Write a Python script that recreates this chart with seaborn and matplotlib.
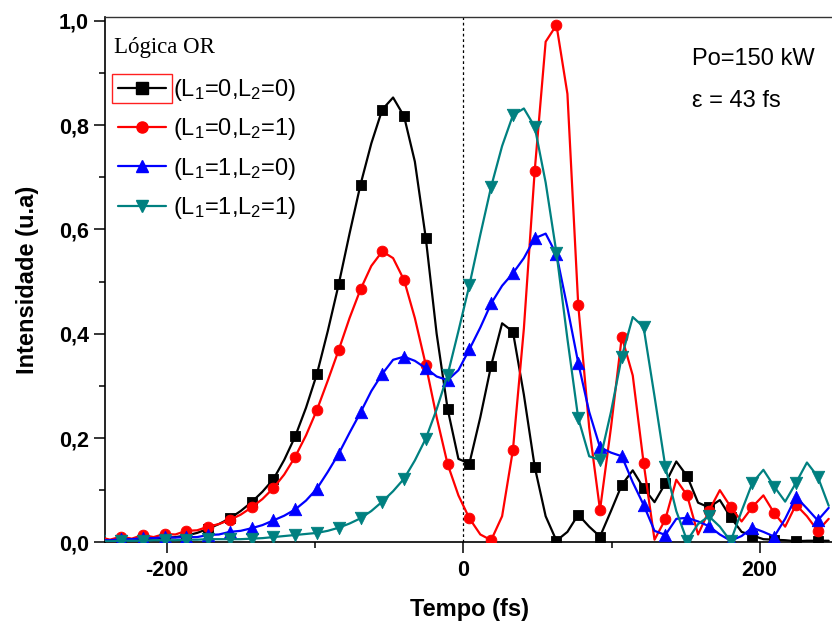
import numpy as np
import pandas as pd
import matplotlib
matplotlib.use("Agg")
import matplotlib.pyplot as plt
import seaborn as sns
from matplotlib.lines import Line2D
from matplotlib.patches import Rectangle
from matplotlib.ticker import FuncFormatter, MultipleLocator, FixedLocator

# Time axis (fs); symbols are drawn on every second sample
time_fs = [
    -245.9, -238.6, -231.2, -223.9, -216.5, -209.2, -201.8, -194.5, -187.1, -179.8,
    -172.4, -165.1, -157.7, -150.4, -143.0, -135.7, -128.3, -121.0, -113.6, -106.3,
    -98.9, -91.6, -84.2, -76.9, -69.5, -62.2, -54.8, -47.5, -40.1, -32.8,
    -25.4, -18.1, -10.7, -3.4, 4.0, 11.4, 18.7, 26.1, 33.4, 40.8,
    48.1, 55.5, 62.8, 70.2, 77.5, 84.9, 92.2, 99.6, 106.9, 114.3,
    121.6, 129.0, 136.3, 143.7, 151.0, 158.4, 165.7, 173.1, 180.4, 187.8,
    195.1, 202.5, 209.8, 217.2, 224.5, 231.9, 239.2, 246.6,
]

# (L1=0, L2=0)
intensity_00 = [
    0.004, 0.004, 0.005, 0.005, 0.006, 0.007, 0.008, 0.010, 0.013, 0.018,
    0.026, 0.035, 0.046, 0.060, 0.077, 0.097, 0.121, 0.158, 0.203, 0.258,
    0.323, 0.405, 0.495, 0.592, 0.686, 0.765, 0.830, 0.853, 0.817, 0.730,
    0.583, 0.400, 0.256, 0.160, 0.151, 0.240, 0.339, 0.420, 0.404, 0.283,
    0.145, 0.050, 0.003, 0.020, 0.053, 0.030, 0.011, 0.060, 0.110, 0.138,
    0.104, 0.077, 0.113, 0.155, 0.127, 0.076, 0.067, 0.081, 0.048, 0.020,
    0.013, 0.006, 0.005, 0.004, 0.002, 0.003, 0.003, 0.003,
]

# (L1=0, L2=1)
intensity_01 = [
    0.010, 0.005, 0.011, 0.007, 0.014, 0.010, 0.016, 0.015, 0.022, 0.023,
    0.030, 0.035, 0.043, 0.053, 0.067, 0.083, 0.104, 0.130, 0.164, 0.205,
    0.254, 0.310, 0.369, 0.430, 0.485, 0.530, 0.558, 0.545, 0.503, 0.430,
    0.340, 0.240, 0.150, 0.090, 0.046, 0.015, 0.004, 0.050, 0.177, 0.410,
    0.712, 0.960, 0.992, 0.860, 0.455, 0.220, 0.062, 0.220, 0.394, 0.320,
    0.153, 0.005, 0.044, 0.120, 0.090, 0.015, 0.060, 0.100, 0.068, 0.040,
    0.068, 0.090, 0.056, 0.030, 0.072, 0.050, 0.022, 0.045,
]

# (L1=1, L2=0)
intensity_10 = [
    0.004, 0.004, 0.006, 0.006, 0.008, 0.008, 0.010, 0.009, 0.010, 0.010,
    0.014, 0.015, 0.020, 0.022, 0.027, 0.033, 0.042, 0.051, 0.063, 0.080,
    0.103, 0.135, 0.170, 0.210, 0.249, 0.290, 0.323, 0.350, 0.356, 0.348,
    0.334, 0.318, 0.311, 0.330, 0.370, 0.412, 0.458, 0.492, 0.516, 0.545,
    0.583, 0.592, 0.552, 0.450, 0.344, 0.250, 0.182, 0.172, 0.165, 0.115,
    0.072, 0.022, 0.014, 0.045, 0.047, 0.040, 0.031, 0.015, 0.003, 0.012,
    0.028, 0.020, 0.011, 0.045, 0.087, 0.065, 0.042, 0.066,
]

# (L1=1, L2=1)
intensity_11 = [
    0.002, 0.002, 0.003, 0.003, 0.003, 0.004, 0.004, 0.004, 0.005, 0.005,
    0.006, 0.006, 0.006, 0.006, 0.007, 0.008, 0.010, 0.012, 0.014, 0.016,
    0.018, 0.022, 0.028, 0.036, 0.046, 0.060, 0.078, 0.098, 0.122, 0.157,
    0.199, 0.255, 0.321, 0.405, 0.493, 0.590, 0.682, 0.760, 0.819, 0.832,
    0.797, 0.690, 0.555, 0.390, 0.238, 0.165, 0.158, 0.250, 0.356, 0.432,
    0.413, 0.280, 0.145, 0.060, 0.003, 0.035, 0.050, 0.030, 0.002, 0.060,
    0.114, 0.139, 0.107, 0.078, 0.114, 0.153, 0.126, 0.070,
]

series_values = [intensity_00, intensity_01, intensity_10, intensity_11]
series_labels = ["(L$_1$=0,L$_2$=0)", "(L$_1$=0,L$_2$=1)",
                 "(L$_1$=1,L$_2$=0)", "(L$_1$=1,L$_2$=1)"]
series_colors = ["#000000", "#ff0000", "#0000ff", "#008080"]
series_markers = ["s", "o", "^", "v"]
marker_sizes = [52, 60, 80, 80]

x_ticks = [-200, 0, 200]
y_ticks = [0.0, 0.2, 0.4, 0.6, 0.8, 1.0]

sns.set_theme(style="ticks", rc={
    "axes.edgecolor": "black", "text.color": "black",
    "axes.labelcolor": "black", "xtick.color": "black", "ytick.color": "black",
})
plt.rcParams["font.family"] = ["Liberation Sans", "DejaVu Sans"]
plt.rcParams["mathtext.fontset"] = "custom"
plt.rcParams["mathtext.rm"] = "Liberation Sans"
plt.rcParams["mathtext.it"] = "Liberation Sans:italic"
plt.rcParams["mathtext.default"] = "regular"
plt.rcParams["axes.unicode_minus"] = False

W, H = 832, 625
fig = plt.figure(figsize=(W / 100, H / 100), dpi=100)
ax = fig.add_axes([105 / W, 82.7 / H, 728 / W, 525.6 / H])

for i, (vals, col, mk, ms) in enumerate(zip(series_values, series_colors,
                                            series_markers, marker_sizes)):
    df = pd.DataFrame({"t": time_fs, "v": vals})
    sns.lineplot(data=df, x="t", y="v", color=col, linewidth=1.6, ax=ax,
                 sort=False, estimator=None, legend=False, zorder=2 + 2 * i)
    sns.scatterplot(data=df.iloc[::2], x="t", y="v", color=col, marker=mk,
                    s=ms, edgecolor=col, linewidth=0.6, ax=ax, legend=False,
                    zorder=3 + 2 * i)

ax.axvline(0, color="black", linestyle=(0, (2.2, 2.2)), linewidth=0.9, zorder=1)

ax.set_xlim(-242, 249.5)
ax.set_ylim(0, 1.008)

ax.xaxis.set_major_locator(FixedLocator(x_ticks))
ax.xaxis.set_minor_locator(MultipleLocator(100))
ax.yaxis.set_major_locator(FixedLocator(y_ticks))
ax.yaxis.set_minor_locator(MultipleLocator(0.1))
ax.xaxis.set_major_formatter(FuncFormatter(lambda v, p: f"{v:.0f}"))
ax.yaxis.set_major_formatter(FuncFormatter(lambda v, p: f"{v:.1f}".replace(".", ",")))

ax.tick_params(axis="both", which="major", direction="out", length=7.7,
               width=1.1, labelsize=15.5, bottom=True, left=True, top=False, right=False)
ax.tick_params(axis="both", which="minor", direction="out", length=4,
               width=1.1, bottom=True, left=True, top=False, right=False)
ax.tick_params(axis="x", which="major", pad=5)
ax.tick_params(axis="y", which="major", pad=4)
for lbl in ax.get_xticklabels() + ax.get_yticklabels():
    lbl.set_fontweight("bold")

for side in ["left", "bottom"]:
    ax.spines[side].set_linewidth(1.2)
ax.spines["top"].set_linewidth(1.0)
ax.spines["top"].set_color("#333333")
ax.spines["right"].set_visible(False)

ax.set_xlabel("Tempo (fs)", fontsize=17, fontweight="bold", labelpad=12)
ax.set_ylabel("Intensidade (u.a)", fontsize=17, fontweight="bold", labelpad=14)

# legend title drawn as its own text line
fig.text(114 / W, 1 - 53 / H, "Lógica OR", fontsize=16.5,
         family=["Liberation Serif"], ha="left", va="baseline")

handles = [Line2D([], [], color=c, marker=m, markersize=8, linewidth=1.6)
           for c, m in zip(series_colors, series_markers)]
leg = ax.legend(handles, series_labels, loc="upper left",
                bbox_to_anchor=(0.0, 0.93), frameon=False, fontsize=17,
                handlelength=2.07, handletextpad=0.28, labelspacing=0.56,
                borderaxespad=0.0, borderpad=0.3, numpoints=1)

# place the first legend key: left end at x=112 px, centred on y=88 px
renderer = fig.canvas.get_renderer()
fig.canvas.draw()
bb = leg.legend_handles[0].get_window_extent(renderer)
dx = 112 - bb.x0
dy = (H - 88) - 0.5 * (bb.y0 + bb.y1)
ax_bb = ax.get_window_extent(renderer)
anchor = leg.get_bbox_to_anchor()
leg.set_bbox_to_anchor(((anchor.x0 + dx - ax_bb.x0) / ax_bb.width,
                        (anchor.y0 + dy - ax_bb.y0) / ax_bb.height),
                       transform=ax.transAxes)
fig.canvas.draw()

# red selection box around the first legend key
bb = leg.legend_handles[0].get_window_extent(renderer)
cy = 0.5 * (bb.y0 + bb.y1)
to_fig = fig.transFigure.inverted()
(x0, y0) = to_fig.transform((bb.x0 - 0.5, cy - 14.5))
(x1, y1) = to_fig.transform((bb.x1 + 0.5, cy + 14.5))
fig.add_artist(Rectangle((x0, y0), x1 - x0, y1 - y0, transform=fig.transFigure,
                         fill=False, edgecolor="#ff2020", linewidth=1.0))

ax.text(0.807, 0.908, "Po=150 kW", transform=ax.transAxes, fontsize=17,
        va="baseline", ha="left")
ax.text(0.807, 0.828, "ε = 43 fs", transform=ax.transAxes, fontsize=17,
        va="baseline", ha="left")

fig.savefig("out.png", dpi=100)
